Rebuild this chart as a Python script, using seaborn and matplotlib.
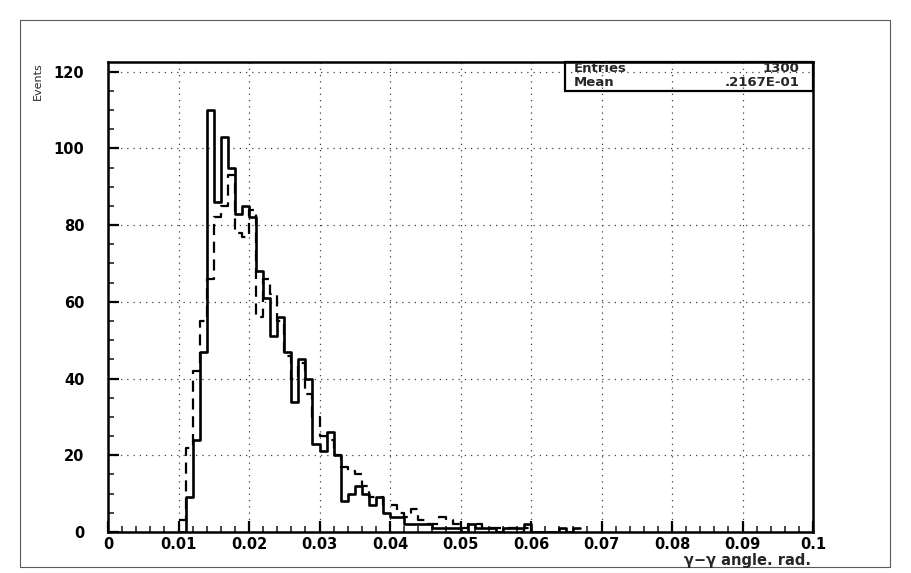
import numpy as np
import pandas as pd
import matplotlib
matplotlib.use("Agg")
import matplotlib.pyplot as plt
import seaborn as sns
from matplotlib.patches import Rectangle
from matplotlib.ticker import MultipleLocator

# ---------------- data ----------------
bin_start = 0.010          # left edge of first listed bin
bin_width = 0.001          # 100 bins over 0 .. 0.1
solid_counts = [0, 9, 24, 47, 110, 86, 103, 95, 83, 85,
                82, 68, 61, 51, 56, 47, 34, 45, 40, 23,
                21, 26, 20, 8, 10, 12, 10, 7, 9, 5,
                4, 4, 2, 2, 2, 2, 1, 1, 1, 1,
                0, 2, 1, 1, 1, 0, 1, 1, 1, 2,
                0, 0, 0, 0, 1, 0, 1]
dashed_counts = [3, 22, 42, 55, 66, 82, 85, 93, 78, 77,
                 84, 56, 66, 62, 55, 46, 40, 44, 36, 30,
                 25, 24, 20, 17, 16, 15, 12, 9, 9, 7,
                 7, 5, 4, 6, 3, 2, 2, 4, 3, 2,
                 1, 2, 2, 1, 1, 1, 1, 1, 0, 1]
x_ticks = [0, 0.01, 0.02, 0.03, 0.04, 0.05, 0.06, 0.07, 0.08, 0.09, 0.1]
x_tick_labels = ["0", "0.01", "0.02", "0.03", "0.04", "0.05", "0.06",
                 "0.07", "0.08", "0.09", "0.1"]
y_ticks = [0, 20, 40, 60, 80, 100, 120]
y_tick_labels = ["0", "20", "40", "60", "80", "100", "120"]
stats_labels = ["Entries", "Mean"]
stats_values = ["1300", ".2167E-01"]
x_label = "γ−γ angle. rad."
y_label = "Events"

# ---------------- figure ----------------
sns.set_theme(style="white")
plt.rcParams["font.family"] = ["DejaVu Sans"]

W, H = 911, 573
fig = plt.figure(figsize=(W / 100, H / 100), dpi=100)
ax = fig.add_axes([108 / W, 1 - 532 / H, (813 - 108) / W, (532 - 62) / H])


def hist_frame(counts):
    n = len(counts)
    lo = bin_start
    hi = bin_start + bin_width * n
    centers = lo + bin_width * (np.arange(n) + 0.5)
    return pd.DataFrame({"x": centers, "w": np.asarray(counts, float)}), (lo, hi), n


df_s, rng_s, n_s = hist_frame(solid_counts)
df_d, rng_d, n_d = hist_frame(dashed_counts)

sns.histplot(data=df_d, x="x", weights="w", bins=n_d, binrange=rng_d,
             element="step", fill=False, color="black", linewidth=1.6,
             linestyle=(0, (5, 3)), ax=ax)
sns.histplot(data=df_s, x="x", weights="w", bins=n_s, binrange=rng_s,
             element="step", fill=False, color="black", linewidth=1.9, ax=ax)

ax.set_xlim(0, 0.1)
ax.set_ylim(0, 122.5)
ax.set_xticks(x_ticks)
ax.set_xticklabels(x_tick_labels)
ax.set_yticks(y_ticks)
ax.set_yticklabels(y_tick_labels)
ax.xaxis.set_minor_locator(MultipleLocator(0.002))
ax.yaxis.set_minor_locator(MultipleLocator(5))
ax.set_xlabel("")
ax.set_ylabel("")

ax.grid(True, which="major", color="0.25", linestyle=(0, (1, 4)), linewidth=0.9)
ax.set_axisbelow(True)

ax.tick_params(axis="both", which="major", direction="in", length=8, width=1.6,
               labelsize=10.5, pad=3.5, colors="black", bottom=True, left=True,
               top=False, right=False)
ax.tick_params(axis="both", which="minor", direction="in", length=4, width=1.2,
               bottom=True, left=True, top=False, right=False)
ax.tick_params(axis="y", which="major", pad=17)
for lab in ax.get_xticklabels() + ax.get_yticklabels():
    lab.set_fontweight("bold")

for sp in ax.spines.values():
    sp.set_visible(True)
    sp.set_color("black")
    sp.set_linewidth(1.8)

# statistics box (transparent, grid shows through)
x0 = (565 - 108) / (813 - 108)
y0 = 1 - (91 - 62) / (532 - 62)
ax.add_patch(Rectangle((x0, y0), 1 - x0, 1 - y0, transform=ax.transAxes,
                       fill=False, edgecolor="black", linewidth=1.6,
                       clip_on=False, zorder=5))
row_y = [69, 82.5]
for lab, val, yy in zip(stats_labels, stats_values, row_y):
    fig.text(574 / W, 1 - yy / H, lab, ha="left", va="center",
             fontsize=9.5, fontweight="bold")
    fig.text(799 / W, 1 - yy / H, val, ha="right", va="center",
             fontsize=9.5, fontweight="bold")

# axis titles
fig.text(38 / W, 1 - 62 / H, y_label, rotation=90, ha="center", va="top",
         fontsize=8)
fig.text(811 / W, 1 - 561 / H, x_label, ha="right", va="center",
         fontsize=10.5, fontweight="bold")

# outer page frame
fig.add_artist(Rectangle((20 / W, 1 - 567 / H), (890 - 20) / W, (567 - 20) / H,
                         transform=fig.transFigure, fill=False,
                         edgecolor="0.35", linewidth=0.8))

fig.savefig("out.png", dpi=100, facecolor="white")
